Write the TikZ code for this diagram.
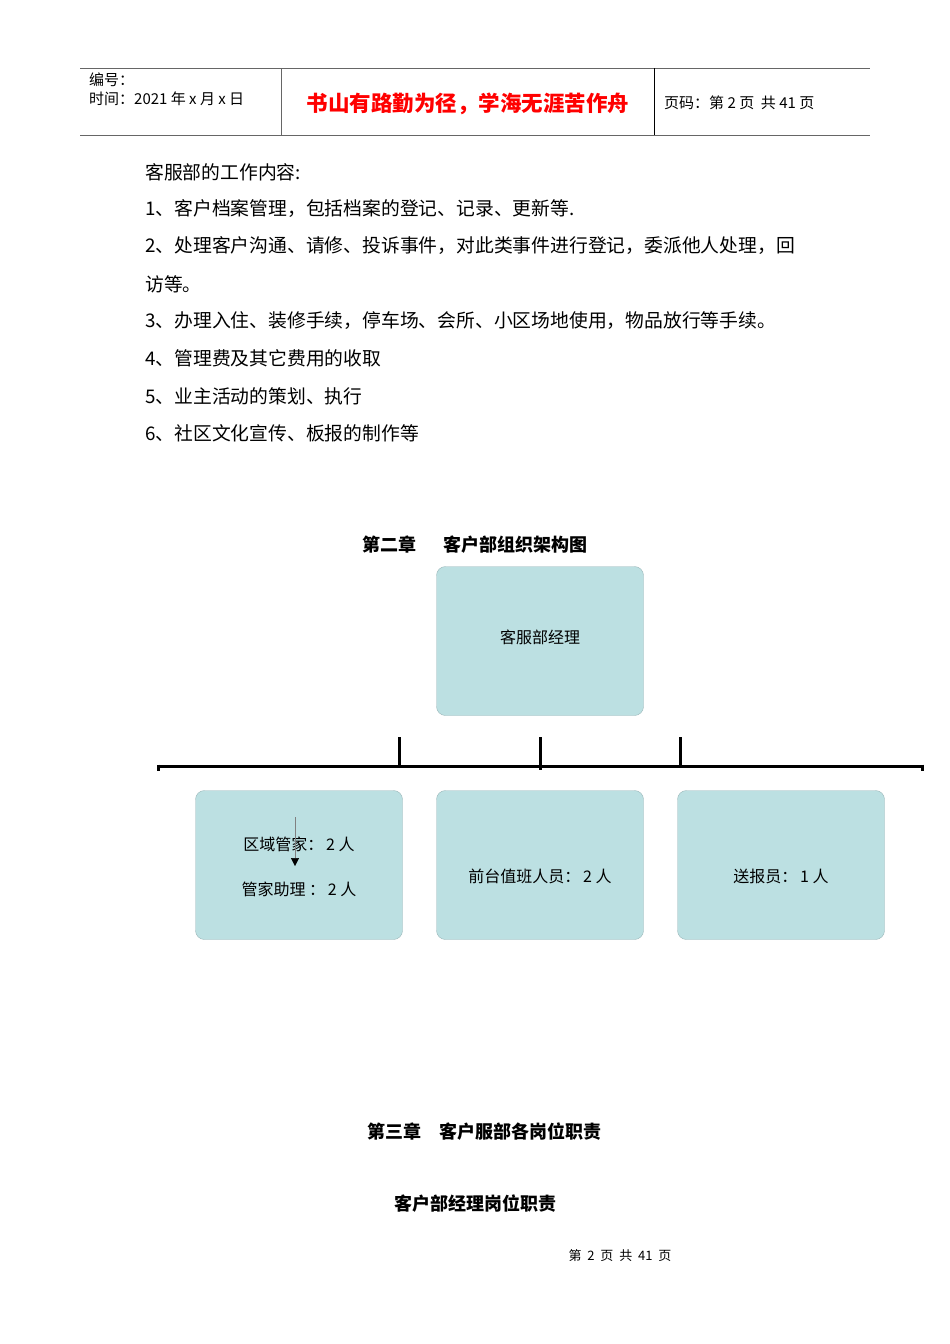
\documentclass[tikz,border=0pt]{standalone}
\usepackage{fontspec}
\setmainfont{Noto Sans CJK SC}
\usetikzlibrary{arrows.meta}
\definecolor{boxc}{HTML}{BCE0E2}
\definecolor{boxb}{HTML}{9CB8BA}
\tikzset{
 body/.style={anchor=west,font=\fontsize{18.8}{19}\selectfont,inner sep=0},
 orgbox/.style={draw=boxb,fill=boxc,rounded corners=9pt,minimum width=207pt,minimum height=149pt,inner sep=0},
 btxt/.style={inner sep=0,font=\fontsize{16}{17}\selectfont},
 hdr/.style={anchor=west,inner sep=0,font=\fontsize{15}{16}\selectfont},
 ttl/.style={font=\fontsize{18}{19}\selectfont\bfseries,inner sep=0},
 bar/.style={line width=3pt},
}
\begin{document}
\begin{tikzpicture}[x=1pt,y=-1pt]
\useasboundingbox (0,0) rectangle (950,1344);
% header
\draw[gray!80!black,line width=1pt] (80,68) -- (870,68);
\draw[gray!80!black,line width=1pt] (80,135) -- (870,135);
\draw[gray!80!black,line width=1pt] (281,68) -- (281,135);
\draw[black,line width=0.8pt] (654,68) -- (654,135);
\node[hdr] (hn) at (89,80) {编号：};
\node[hdr] (ht) at (89,99) {时间：2021 年 x 月 x 日};
\node[inner sep=0,text=red,font=\fontsize{21.5}{22}\selectfont\bfseries] (hm) at (468,104) {书山有路勤为径，学海无涯苦作舟};
\node[hdr] (hp) at (664,103) {页码：第 2 页\ \ 共 41 页};
% body
\node[body] (l0) at (145,172) {客服部的工作内容:};
\node[body] (l1) at (145,209) {1、客户档案管理，包括档案的登记、记录、更新等.};
\node[body] (l2) at (145,246) {2、处理客户沟通、请修、投诉事件，对此类事件进行登记，委派他人处理，回};
\node[body] (l2b) at (145,284) {访等。};
\node[body] (l3) at (145,321) {3、办理入住、装修手续，停车场、会所、小区场地使用，物品放行等手续。};
\node[body] (l4) at (145,358) {4、管理费及其它费用的收取};
\node[body] (l5) at (145,396) {5、业主活动的策划、执行};
\node[body] (l6) at (145,433) {6、社区文化宣传、板报的制作等};
\node[ttl] (t2) at (475,545) {第二章\quad\ \ 客户部组织架构图};
% org chart
\node[orgbox] (mgr) at (540,641) {};
\node[btxt] (mgrt) at (540,637) {客服部经理};
\coordinate (bl) at (158,766);
\coordinate (br) at (922,766);
\draw[bar] (bl) -- (br);
\draw[bar] (158,764.5) -- (158,771);
\draw[bar] (922,764.5) -- (922,771);
\coordinate (v1) at (399,737); \coordinate (v1b) at (399,766);
\coordinate (v2) at (540,737); \coordinate (v2b) at (540,770);
\coordinate (v3) at (680,737); \coordinate (v3b) at (680,766);
\draw[bar] (v1) -- (v1b);
\draw[bar] (v2) -- (v2b);
\draw[bar] (v3) -- (v3b);
\node[orgbox] (b1) at (299,865) {};
\node[orgbox] (b2) at (540,865) {};
\node[orgbox] (b3) at (781,865) {};
\node[btxt] (b2t) at (540,876) {前台值班人员：\,2 人};
\node[btxt] (b3t) at (781,876) {送报员：\,1 人};
\node[btxt] (b1a) at (299,844) {区域管家：\,2 人};
\node[btxt] (b1b) at (299,889) {管家助理 ：\,2 人};
\coordinate (a1) at (295,817);
\coordinate (a2) at (295,866);
\draw[gray,line width=0.5pt,-{Triangle[length=8pt,width=8pt,fill=black,color=black]}] (a1) -- (a2);
% chapter 3
\node[ttl] (t3) at (484,1132) {第三章\quad 客户服部各岗位职责};
\node[ttl] (t4) at (475,1204) {客户部经理岗位职责};
\node[inner sep=0,font=\fontsize{13}{14}\selectfont] (ft) at (620,1256) {第\ \ 2\ \ 页\ \ 共\ \ 41\ \ 页};
\end{tikzpicture}
\end{document}
